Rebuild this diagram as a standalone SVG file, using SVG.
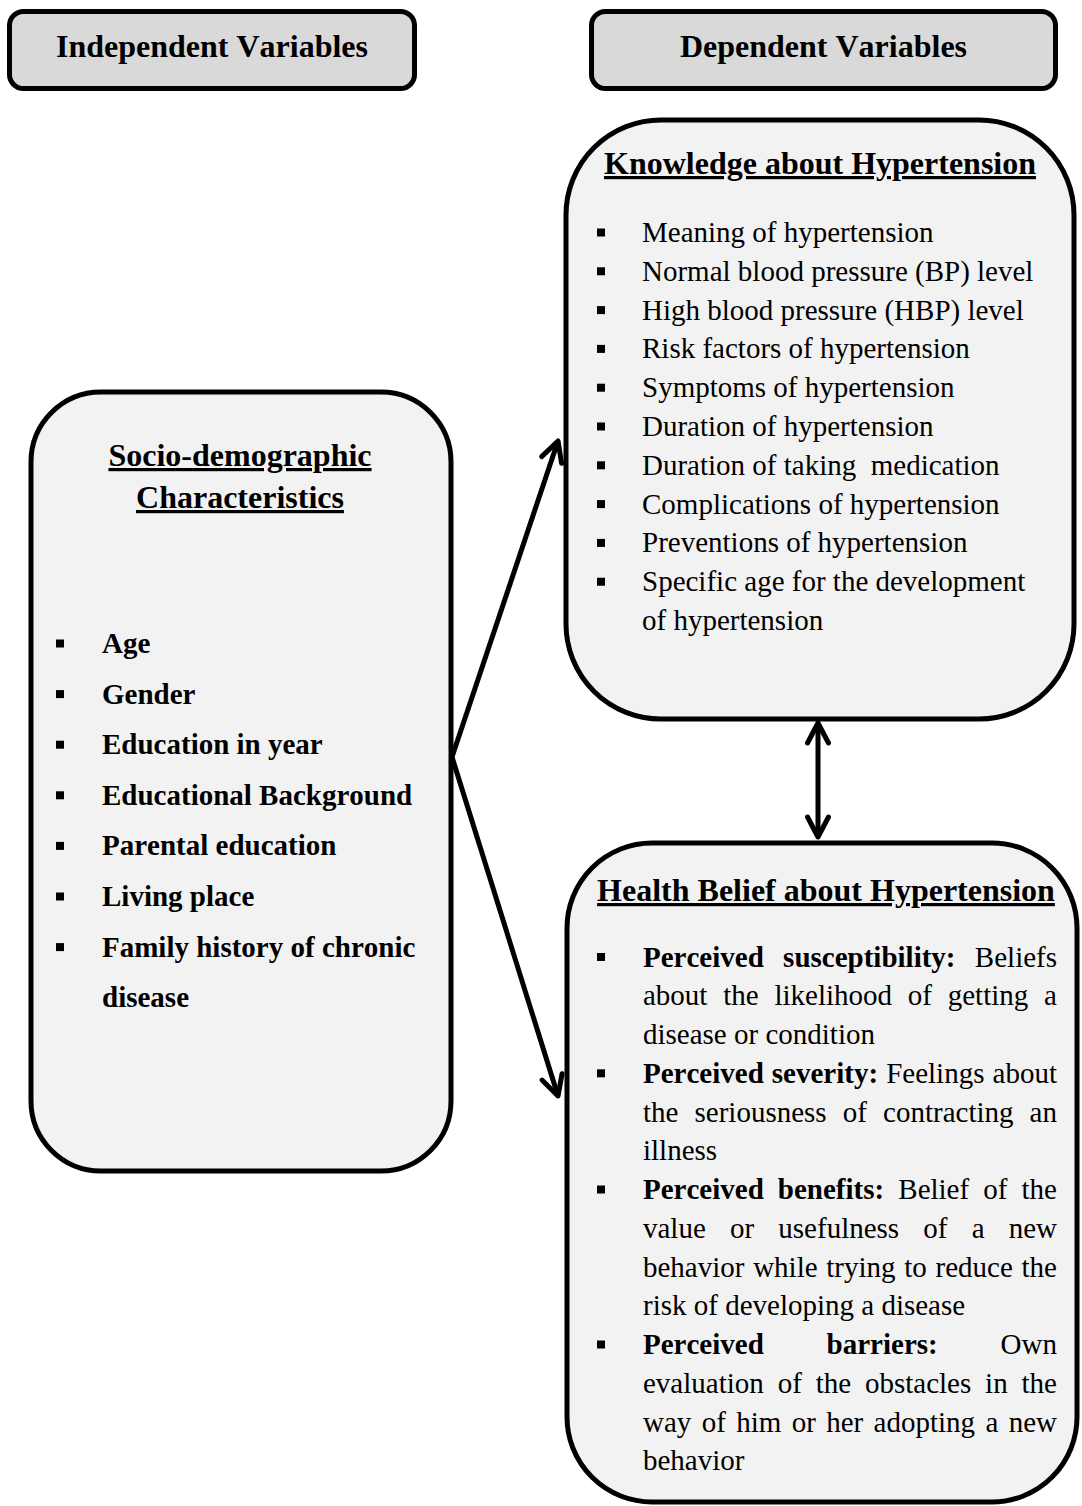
<svg xmlns="http://www.w3.org/2000/svg" width="1082" height="1506" viewBox="0 0 1082 1506">
<style>
  text { font-family: "Liberation Serif", "Times New Roman", serif; fill: #000; font-kerning: none; }
  .hdr { fill: #d9d9d9; stroke: #000; stroke-width: 5; }
  .box { fill: #f2f2f2; stroke: #000; stroke-width: 5; }
  .hdrtxt { font-size: 32px; font-weight: bold; text-anchor: middle; }
  .title { font-size: 32px; font-weight: bold; text-anchor: middle; text-decoration: underline; }
  .item { font-size: 29px; }
  .bitem { font-size: 29px; font-weight: bold; }
  .b { font-weight: bold; }
  .bul { fill: #000; }
  .conn { stroke: #000; stroke-width: 5; fill: none; }
</style>
<defs>
  <marker id="ah" markerUnits="userSpaceOnUse" viewBox="-26 -15 30 30" refX="0" refY="0" markerWidth="30" markerHeight="30" orient="auto-start-reverse">
    <path d="M -20 -10.5 L 0 0 L -20 10.5" fill="none" stroke="#000" stroke-width="5" stroke-linecap="round" stroke-linejoin="round"/>
  </marker>
</defs>
<rect width="1082" height="1506" fill="#fff"/>

<g id="independent-header">
  <rect class="hdr" x="9.5" y="11.5" width="405" height="77" rx="14"/>
  <text class="hdrtxt" x="212" y="57">Independent Variables</text>
</g>

<g id="dependent-header">
  <rect class="hdr" x="591.5" y="11.5" width="464" height="77" rx="14"/>
  <text class="hdrtxt" x="823.5" y="57">Dependent Variables</text>
</g>

<g id="socio-demographic">
  <rect class="box" x="31" y="392" width="420" height="779" rx="70"/>
  <text class="title" x="240" y="466">Socio-demographic</text>
  <text class="title" x="240" y="508">Characteristics</text>
  <rect class="bul" x="56" y="639.5" width="8" height="8"/>
  <text class="bitem" x="102" y="653">Age</text>
  <rect class="bul" x="56" y="690.1" width="8" height="8"/>
  <text class="bitem" x="102" y="703.6">Gender</text>
  <rect class="bul" x="56" y="740.7" width="8" height="8"/>
  <text class="bitem" x="102" y="754.2">Education in year</text>
  <rect class="bul" x="56" y="791.3" width="8" height="8"/>
  <text class="bitem" x="102" y="804.8">Educational Background</text>
  <rect class="bul" x="56" y="841.9" width="8" height="8"/>
  <text class="bitem" x="102" y="855.4">Parental education</text>
  <rect class="bul" x="56" y="892.5" width="8" height="8"/>
  <text class="bitem" x="102" y="906">Living place</text>
  <rect class="bul" x="56" y="943.1" width="8" height="8"/>
  <text class="bitem" x="102" y="956.6">Family history of chronic</text>
  <text class="bitem" x="102" y="1007.2">disease</text>
</g>

<g id="knowledge">
  <rect class="box" x="566" y="120" width="508" height="599" rx="95"/>
  <text class="title" x="820" y="174">Knowledge about Hypertension</text>
  <rect class="bul" x="597" y="228.5" width="8" height="8"/>
  <text class="item" x="642" y="242">Meaning of hypertension</text>
  <rect class="bul" x="597" y="267.3" width="8" height="8"/>
  <text class="item" x="642" y="280.8">Normal blood pressure (BP) level</text>
  <rect class="bul" x="597" y="306.1" width="8" height="8"/>
  <text class="item" x="642" y="319.6">High blood pressure (HBP) level</text>
  <rect class="bul" x="597" y="344.9" width="8" height="8"/>
  <text class="item" x="642" y="358.4">Risk factors of hypertension</text>
  <rect class="bul" x="597" y="383.7" width="8" height="8"/>
  <text class="item" x="642" y="397.2">Symptoms of hypertension</text>
  <rect class="bul" x="597" y="422.5" width="8" height="8"/>
  <text class="item" x="642" y="436">Duration of hypertension</text>
  <rect class="bul" x="597" y="461.3" width="8" height="8"/>
  <text class="item" x="642" y="474.8" xml:space="preserve">Duration of taking  medication</text>
  <rect class="bul" x="597" y="500.1" width="8" height="8"/>
  <text class="item" x="642" y="513.6">Complications of hypertension</text>
  <rect class="bul" x="597" y="538.9" width="8" height="8"/>
  <text class="item" x="642" y="552.4">Preventions of hypertension</text>
  <rect class="bul" x="597" y="577.7" width="8" height="8"/>
  <text class="item" x="642" y="591.2">Specific age for the development</text>
  <text class="item" x="642" y="630">of hypertension</text>
</g>

<g id="health-belief">
  <rect class="box" x="567" y="843" width="510" height="659" rx="85"/>
  <text class="title" x="826" y="901">Health Belief about Hypertension</text>
  <rect class="bul" x="597" y="953" width="8" height="8"/>
  <text class="item" x="643" y="966.5" word-spacing="12.1"><tspan class="b">Perceived susceptibility:</tspan> Beliefs</text>
  <text class="item" x="643" y="1005.3" word-spacing="8.53">about the likelihood of getting a</text>
  <text class="item" x="643" y="1044">disease or condition</text>
  <rect class="bul" x="597" y="1069.3" width="8" height="8"/>
  <text class="item" x="643" y="1082.8" word-spacing="0.82"><tspan class="b">Perceived severity:</tspan> Feelings about</text>
  <text class="item" x="643" y="1121.5" word-spacing="8.87">the seriousness of contracting an</text>
  <text class="item" x="643" y="1160.3">illness</text>
  <rect class="bul" x="597" y="1185.5" width="8" height="8"/>
  <text class="item" x="643" y="1199" word-spacing="6.85"><tspan class="b">Perceived benefits:</tspan> Belief of the</text>
  <text class="item" x="643" y="1237.8" word-spacing="16.93">value or usefulness of a new</text>
  <text class="item" x="643" y="1276.5" word-spacing="1.45">behavior while trying to reduce the</text>
  <text class="item" x="643" y="1315.3">risk of developing a disease</text>
  <rect class="bul" x="597" y="1340.5" width="8" height="8"/>
  <text class="item" x="643" y="1354" word-spacing="55.6"><tspan class="b">Perceived barriers:</tspan> Own</text>
  <text class="item" x="643" y="1392.8" word-spacing="6.61">evaluation of the obstacles in the</text>
  <text class="item" x="643" y="1431.5" word-spacing="3.11">way of him or her adopting a new</text>
  <text class="item" x="643" y="1470.3">behavior</text>
</g>

<g id="connectors">
  <line class="conn" x1="452" y1="757" x2="558" y2="441" marker-end="url(#ah)"/>
  <line class="conn" x1="452" y1="757" x2="558" y2="1096" marker-end="url(#ah)"/>
  <line class="conn" x1="818" y1="723" x2="818" y2="837" marker-start="url(#ah)" marker-end="url(#ah)"/>
</g>
</svg>
